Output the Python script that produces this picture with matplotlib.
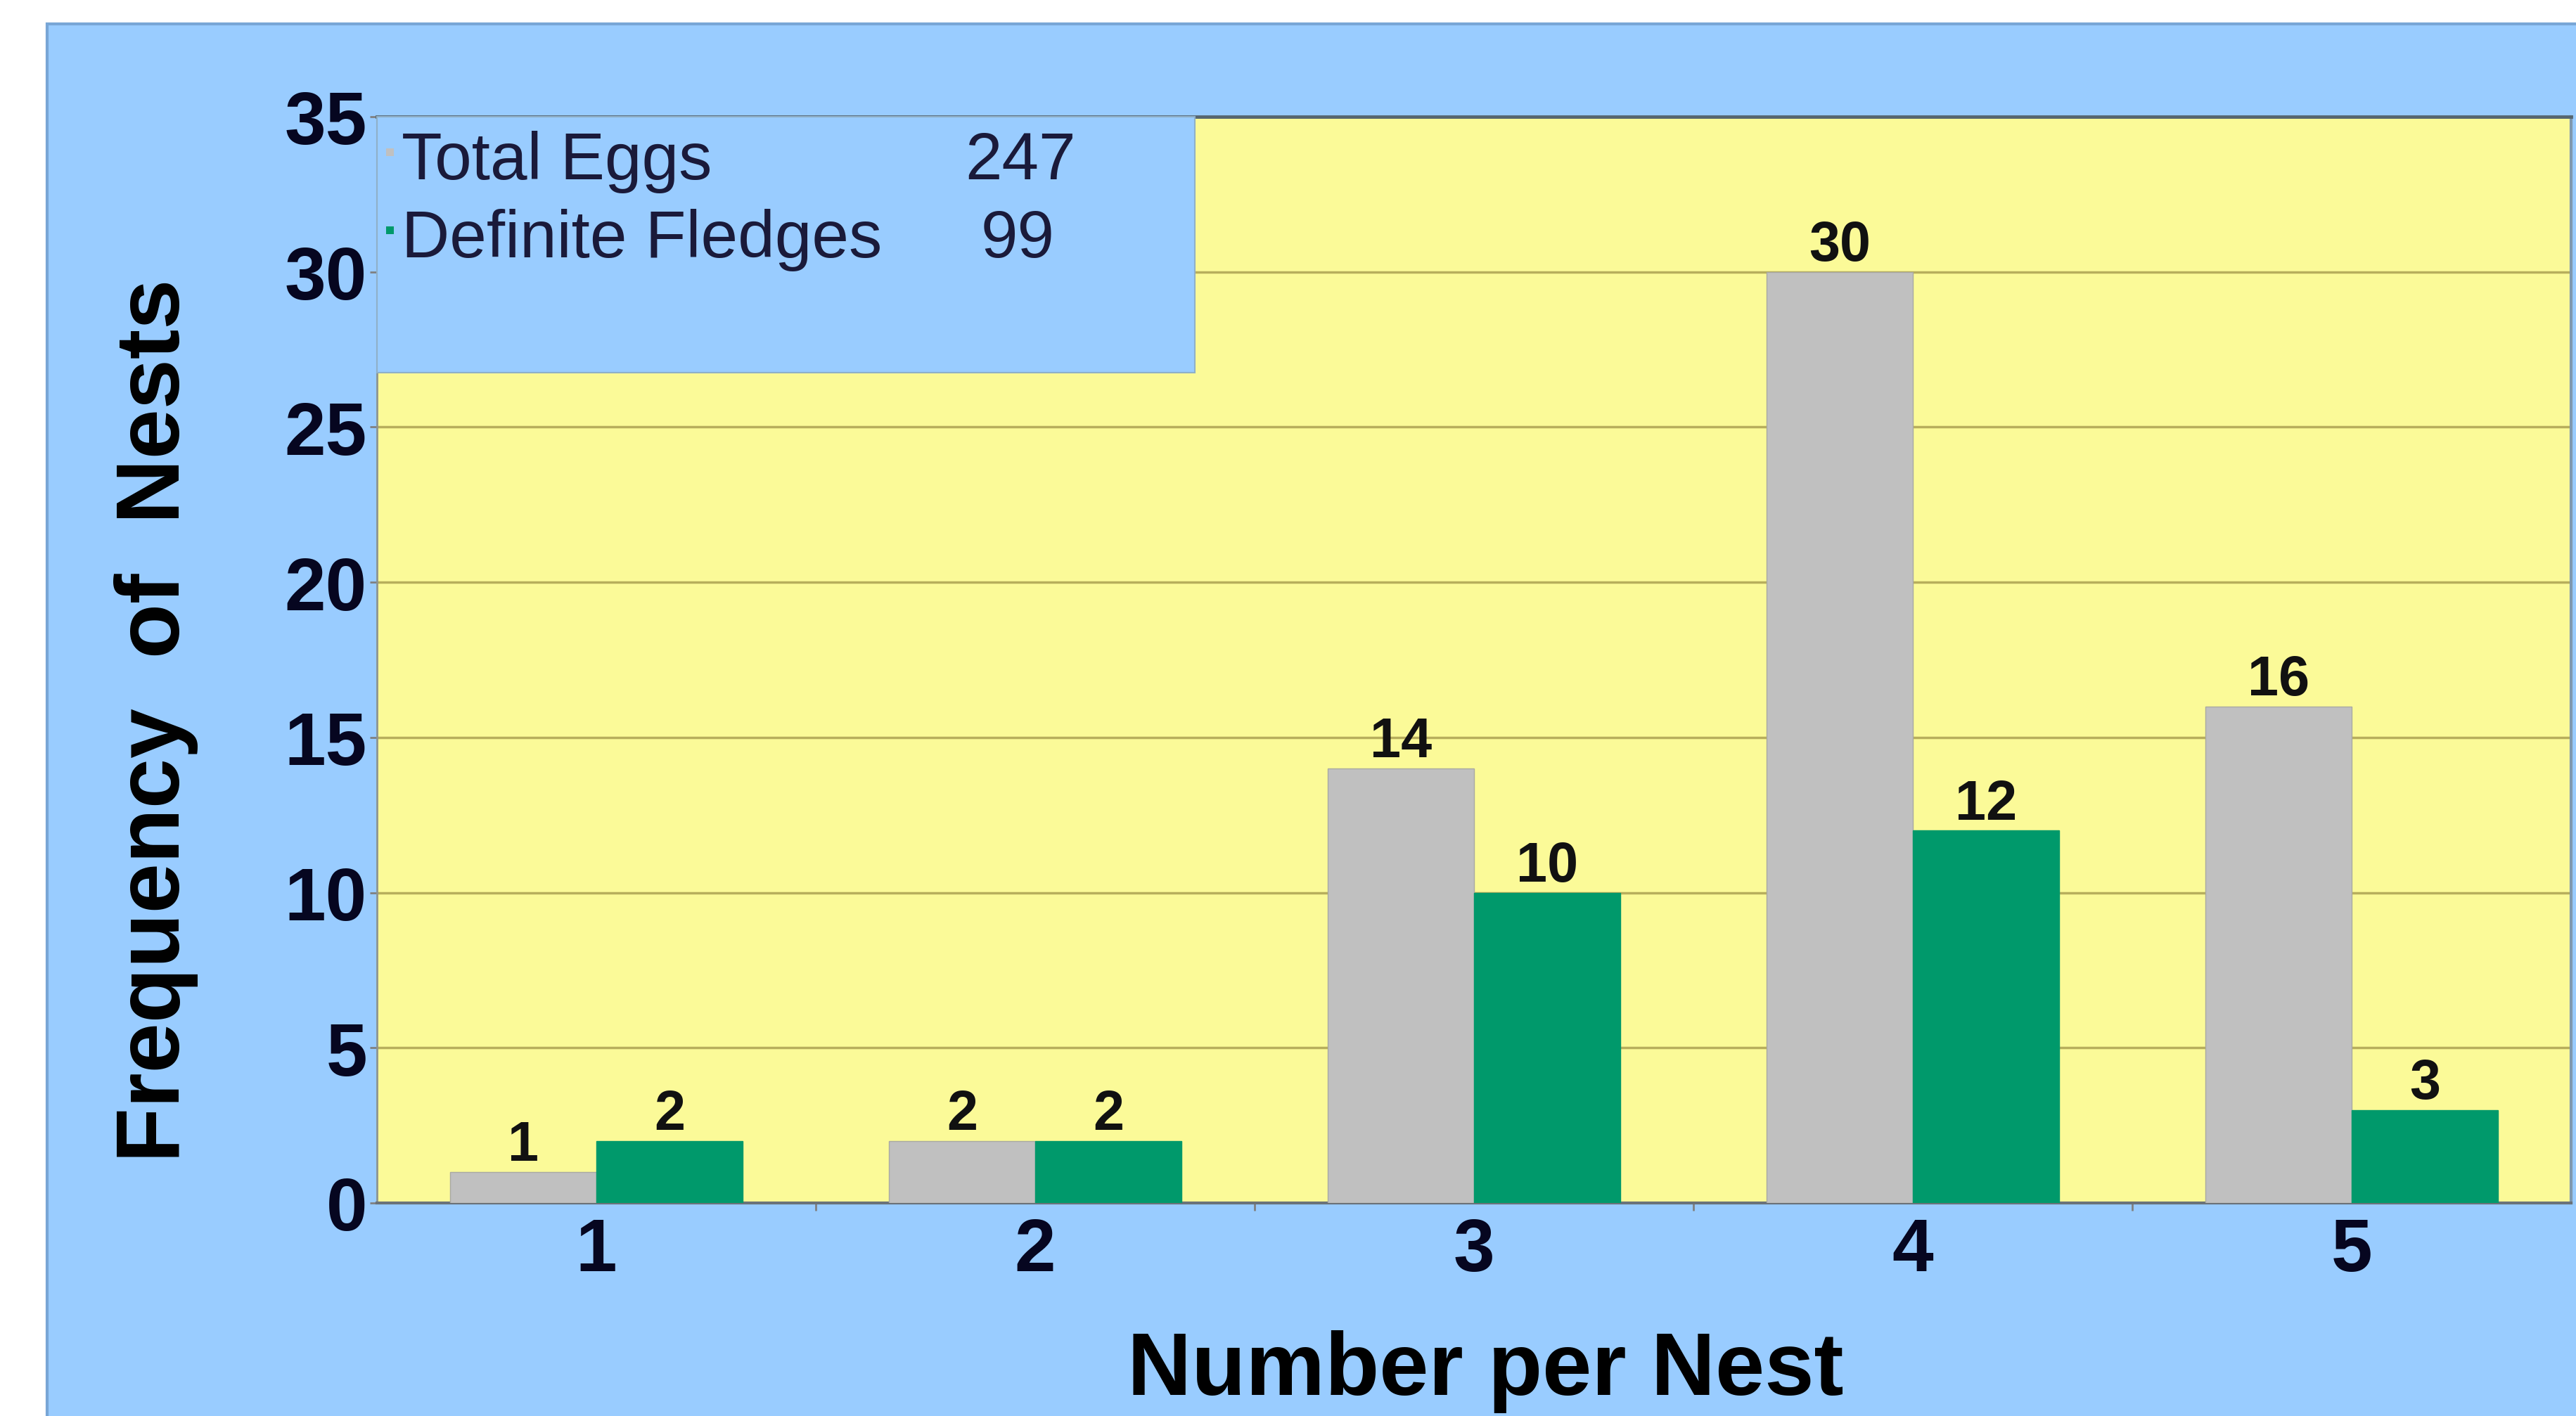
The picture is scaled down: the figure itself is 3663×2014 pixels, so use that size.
import numpy as np
import matplotlib
matplotlib.use("Agg")
from matplotlib import pyplot as plt
from matplotlib.patches import Rectangle

# data
categories = [1, 2, 3, 4, 5]
total_eggs = [1, 2, 14, 30, 16]
fledges = [2, 2, 10, 12, 3]
legend_names = ["Total Eggs", "Definite Fledges"]
legend_totals = ["247", "99"]
yticks = [0, 5, 10, 15, 20, 25, 30, 35]

plt.rcParams['font.family'] = ['Liberation Sans', 'DejaVu Sans']

W, H = 3663, 2015
fig = plt.figure(figsize=(W / 100, H / 100), dpi=100)
fig.patch.set_facecolor('white')

# blue chart background, white strip top and left
bg = Rectangle((67 / W, -0.01), 1.0, 1 - 35 / H + 0.01, transform=fig.transFigure,
               facecolor='#99ccff', edgecolor='#78a6d6', linewidth=3, zorder=-10)
fig.add_artist(bg)

ax = fig.add_axes([536 / W, 1 - 1712 / H, (3656 - 536) / W, (1712 - 167) / H])
ax.set_facecolor('#fbfa98')

x = np.array(categories)
w = 1 / 3
b1 = ax.bar(x - w / 2, total_eggs, width=w, color='#c0c0c0', edgecolor='#a9a9a2',
            linewidth=1, zorder=3)
b2 = ax.bar(x + w / 2, fledges, width=w, color='#00996b', edgecolor='#00996b',
            linewidth=1, zorder=3)

for bars, vals in [(b1, total_eggs), (b2, fledges)]:
    for r, v in zip(bars, vals):
        ax.annotate(str(v), (r.get_x() + r.get_width() / 2, v), xytext=(0, 12),
                    textcoords='offset points', ha='center', va='baseline',
                    fontsize=57, fontweight='bold', color='#111111', zorder=5)

ax.set_xlim(0.5, 5.5)
ax.set_ylim(0, 35)
ax.set_yticks(yticks)
ax.set_xticks(categories)
ax.set_xticks([1.5, 2.5, 3.5, 4.5], minor=True)
ax.yaxis.grid(True, color='#b7ae5c', linewidth=2.5, zorder=1)
ax.set_axisbelow(True)

ax.tick_params(axis='y', labelsize=76, length=7, width=2, color='#808080', pad=3,
               labelcolor='#060620')
for lab in ax.get_yticklabels():
    lab.set_fontweight('bold')
ax.tick_params(axis='x', which='major', labelsize=76, length=0, pad=14,
               labelcolor='#060620')
ax.tick_params(axis='x', which='minor', length=8, width=2, color='#808080')
for lab in ax.get_xticklabels():
    lab.set_fontweight('bold')

ax.spines['top'].set_color('#566670')
ax.spines['top'].set_linewidth(3.5)
ax.spines['right'].set_color('#7f98ae')
ax.spines['right'].set_linewidth(3)
ax.spines['left'].set_color('#8c9490')
ax.spines['left'].set_linewidth(2)
ax.spines['bottom'].set_color('#6a7278')
ax.spines['bottom'].set_linewidth(3)

# legend box (covers the top left of the plot)
box_h = (531 - 167) / (1712 - 167)
ax.add_patch(Rectangle((0, 1 - box_h), (1699 - 536) / (3656 - 536), box_h,
                       transform=ax.transAxes, facecolor='#99ccff',
                       edgecolor='#8fb0c8', linewidth=1.5, zorder=6, clip_on=False))
rows_y = [255, 366]
num_x = [1372, 1395]
marker_cols = ['#c0c0c0', '#00996b']
for name, tot, yb, nx, mc in zip(legend_names, legend_totals, rows_y, num_x, marker_cols):
    fig.text(571 / W, 1 - yb / H, name, fontsize=68, color='#1a1a3a', va='baseline',
             zorder=10)
    fig.text(nx / W, 1 - yb / H, tot, fontsize=68, color='#1a1a3a', va='baseline',
             zorder=10)
    fig.add_artist(Rectangle((549 / W, 1 - (yb - 32) / H), 11 / W, 11 / H,
                             transform=fig.transFigure, facecolor=mc,
                             edgecolor='none', zorder=10))

fig.text(222 / W, 1 - 1025 / H, "Frequency  of  Nests", rotation=90, fontsize=92,
         fontweight='bold', ha='center', va='center', color='#000000')
fig.text(2112 / W, 1 - 1984 / H, "Number per Nest", fontsize=91, fontweight='bold',
         ha='center', va='baseline', color='#000000')

fig.savefig('out.png', dpi=100, facecolor=fig.get_facecolor())
